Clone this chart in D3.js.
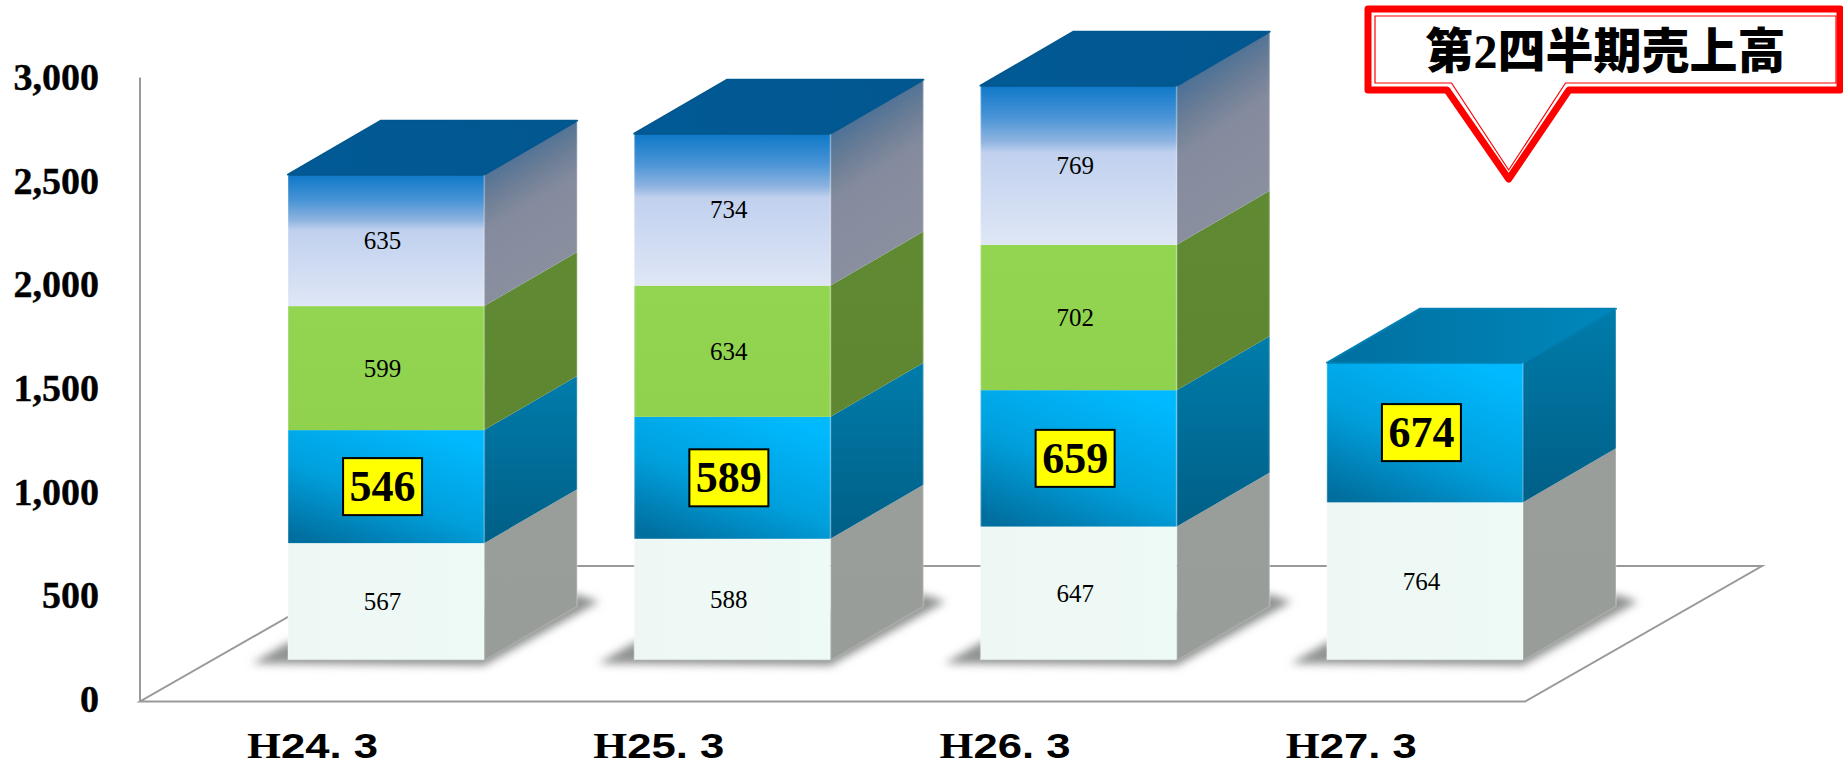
<!DOCTYPE html>
<html lang="ja">
<head>
    <meta charset="UTF-8">
    <title>第2四半期売上高</title>
    <script src="https://d3js.org/d3.v7.min.js"></script>
    <style>
        body { margin: 0; background: #fff; overflow: hidden; }
        svg { display: block; }
        .tick-label text { font-family: "Liberation Serif", serif; font-weight: bold; font-size: 38px; fill: #000; stroke: #000; stroke-width: 0.4px; }
        .value { font-family: "Liberation Serif", serif; font-size: 25px; fill: #000; text-anchor: middle; dominant-baseline: central; }
        .value-big { font-family: "Liberation Serif", serif; font-weight: bold; font-size: 44px; fill: #000; text-anchor: middle; dominant-baseline: central; }
        .cat { font-family: "Liberation Sans", sans-serif; font-weight: 700; font-size: 35px; fill: #000; }
    </style>
</head>
<body>
    <svg width="1843" height="765"></svg>
    <script>
        const categories = ["H24. 3", "H25. 3", "H26. 3", "H27. 3"];
        const quarter1 = [567, 588, 647, 764];
        const quarter2 = [546, 589, 659, 674];
        const quarter3 = [599, 634, 702, 0];
        const quarter4 = [635, 734, 769, 0];
        const yTicks = [0, 500, 1000, 1500, 2000, 2500, 3000];
        const calloutTitle = ["第", "2", "四半期売上高"];

        const rows = categories.map((c, i) => ({
            cat: c, q1: quarter1[i], q2: quarter2[i], q3: quarter3[i], q4: quarter4[i]
        }));
        const keys = ["q1", "q2", "q3", "q4"];
        const stacked = d3.stack().keys(keys)(rows);

        const svg = d3.select("svg");
        const defs = svg.append("defs");

        const x = d3.scaleBand().domain(categories).range([288, 1523]).paddingInner(0.4335);
        const y = d3.scaleLinear().domain([0, 3000]).range([660.5, 39.5]);
        // the axis labels sit on the front of the floor, not on the bars
        const yAxisScale = d3.scaleLinear().domain([0, 3000]).range([699, 77.6]);

        const dx = 93, dy = 54;
        const labelShift = -3.5;

        function gradient(id, stops, x1, y1, x2, y2) {
            const g = defs.append("linearGradient").attr("id", id)
                .attr("x1", x1).attr("y1", y1).attr("x2", x2).attr("y2", y2);
            stops.forEach(s => g.append("stop").attr("offset", s[0]).attr("stop-color", s[1]));
        }
        gradient("front-q1", [[0, "#eef7f3"], [1, "#eefaf6"]], 0, 0, 1, 0);
        gradient("side-q1", [[0, "#9a9e9a"], [1, "#989d99"]], 0, 0, 0, 1);
        gradient("front-q2", [[0, "#006f9f"], [0.45, "#009fdc"], [1, "#00b9ff"]], 0.15, 1, 0.75, 0);
        gradient("side-q2", [[0, "#007cab"], [1, "#005f86"]], 0, 0, 0, 1);
        gradient("front-q3", [[0, "#92d550"], [1, "#90d24e"]], 0, 0, 0, 1);
        gradient("side-q3", [[0, "#5f8a32"], [1, "#5f8631"]], 0, 0, 0, 1);
        gradient("front-q4", [[0, "#0e78c8"], [0.2, "#4a94d6"], [0.35, "#8fb4e0"], [0.42, "#c0d0ee"], [1, "#dfe7f6"]], 0, 0, 0, 1);
        gradient("side-q4", [[0, "#1d5d96"], [0.4, "#6c7e96"], [0.55, "#858b9e"], [1, "#8b90a0"]], 0, 0, 0.3, 1);
        gradient("top-blue", [[0, "#015a96"], [1, "#02578f"]], 0, 0, 1, 0);
        gradient("top-teal", [[0, "#006f9f"], [1, "#0088bc"]], 0, 0.5, 1, 0.5);

        const blur = defs.append("filter").attr("id", "soft")
            .attr("x", "-20%").attr("y", "-30%").attr("width", "140%").attr("height", "160%");
        blur.append("feGaussianBlur").attr("stdDeviation", 4);

        // floor, drawn first so the bars hide the part behind them
        const floorColor = "#999";
        const floor = [[140, 701.5], [1525, 701.5], [1762, 566], [377, 566]];
        svg.append("polygon")
            .attr("points", floor.join(" "))
            .attr("fill", "none").attr("stroke", floorColor).attr("stroke-width", 2);

        // vertical axis
        svg.append("line")
            .attr("x1", 140).attr("x2", 140)
            .attr("y1", yAxisScale(3000)).attr("y2", 702)
            .attr("stroke", floorColor).attr("stroke-width", 2);

        svg.append("g").attr("class", "tick-label")
            .attr("transform", "translate(99,0)")
            .call(d3.axisLeft(yAxisScale).tickValues(yTicks).tickFormat(d3.format(",")).tickSize(0).tickPadding(0))
            .call(g => g.select(".domain").remove());

        // shadows at the foot of each bar
        svg.append("g").selectAll("polygon").data(categories).join("polygon")
            .attr("points", d => {
                const l = x(d), r = l + x.bandwidth(), b = y(0);
                return [[l - 36, b + 3], [r, b + 5], [r + dx + 22, b - dy - 5], [r + dx, b - dy - 12], [l, b - 18]].join(" ");
            })
            .attr("fill", "#8f9290")
            .attr("filter", "url(#soft)");

        // bar segments
        const series = svg.append("g").selectAll("g").data(stacked).join("g");

        series.selectAll(".side")
            .data(s => s.filter(d => d[1] > d[0]).map(d => ({ key: s.key, d })))
            .join("polygon").attr("class", "side")
            .attr("points", e => {
                const r = x(e.d.data.cat) + x.bandwidth();
                return [[r, y(e.d[0])], [r + dx, y(e.d[0]) - dy], [r + dx, y(e.d[1]) - dy], [r, y(e.d[1])]].join(" ");
            })
            .attr("fill", e => `url(#side-${e.key})`);

        series.selectAll(".front")
            .data(s => s.filter(d => d[1] > d[0]).map(d => ({ key: s.key, d })))
            .join("rect").attr("class", "front")
            .attr("x", e => x(e.d.data.cat))
            .attr("width", x.bandwidth())
            .attr("y", e => y(e.d[1]))
            .attr("height", e => y(e.d[0]) - y(e.d[1]))
            .attr("fill", e => `url(#front-${e.key})`);

        // top faces use the colour of whichever series is on top
        svg.append("g").selectAll("polygon").data(rows).join("polygon")
            .attr("points", d => {
                const total = d.q1 + d.q2 + d.q3 + d.q4;
                const l = x(d.cat), r = l + x.bandwidth(), t = y(total);
                return [[l, t], [r, t], [r + dx, t - dy], [l + dx, t - dy]].join(" ");
            })
            .attr("fill", d => d.q4 > 0 ? "url(#top-blue)" : "url(#top-teal)")
            .attr("stroke", d => d.q4 > 0 ? "#02578f" : "#0080b2")
            .attr("stroke-width", 2)
            .attr("stroke-linejoin", "round");

        // pale rims along the vertical edges of each bar
        svg.append("g").selectAll("path").data(rows).join("path")
            .attr("d", d => {
                const total = d.q1 + d.q2 + d.q3 + d.q4;
                const l = x(d.cat), r = l + x.bandwidth(), b = y(0), t = y(total);
                return `M${l},${t}V${b}M${r},${t}V${b}M${r + dx},${t - dy}V${b - dy}`;
            })
            .attr("fill", "none").attr("stroke", "#fff").attr("stroke-opacity", 0.2).attr("stroke-width", 2);

        // bar base edge
        svg.append("g").selectAll("path").data(categories).join("path")
            .attr("d", d => {
                const l = x(d), r = l + x.bandwidth(), b = y(0);
                return `M${l},${b}H${r}L${r + dx},${b - dy}`;
            })
            .attr("fill", "none").attr("stroke", "#a9aca9").attr("stroke-width", 1.5);

        // plain value labels
        const labels = svg.append("g").attr("transform", `translate(${labelShift},0)`);
        stacked.filter(s => s.key !== "q2").forEach(s => {
            labels.selectAll(null).data(s.filter(d => d[1] > d[0])).join("text")
                .attr("class", "value")
                .attr("x", d => x(d.data.cat) + x.bandwidth() / 2)
                .attr("y", d => y((d[0] + d[1]) / 2))
                .text(d => d[1] - d[0]);
        });

        // highlighted series in yellow boxes
        const q2Stack = stacked.find(s => s.key === "q2");
        const boxW = 79, boxH = 57;
        labels.selectAll("rect").data(q2Stack).join("rect")
            .attr("x", d => x(d.data.cat) + x.bandwidth() / 2 - boxW / 2)
            .attr("y", d => y((d[0] + d[1]) / 2) - boxH / 2)
            .attr("width", boxW).attr("height", boxH)
            .attr("fill", "#ff0").attr("stroke", "#000").attr("stroke-width", 2);
        labels.selectAll(".value-big").data(q2Stack).join("text")
            .attr("class", "value-big")
            .attr("x", d => x(d.data.cat) + x.bandwidth() / 2)
            .attr("y", d => y((d[0] + d[1]) / 2))
            .text(d => d[1] - d[0]);

        // category labels, shifted left towards the front of the floor; the H is slab-serif
        const catText = svg.append("g").selectAll("text").data(categories).join("text")
            .attr("class", "cat")
            .attr("x", d => x(d) - 41)
            .attr("y", 757.5)
            .attr("textLength", 131)
            .attr("lengthAdjust", "spacingAndGlyphs");
        catText.append("tspan").attr("font-family", "'Liberation Serif', serif").text(d => d[0]);
        catText.append("tspan").text(d => d.slice(1));

        // callout
        const callout = svg.append("g");
        callout.append("path")
            .attr("d", "M1368,9H1840V90H1569L1508.7,179L1447,90H1368Z")
            .attr("fill", "#fff").attr("stroke", "#f00").attr("stroke-width", 7).attr("stroke-linejoin", "round");
        callout.append("path")
            .attr("d", "M1375,16H1836V83H1565.5L1508.7,170L1451.5,83H1375Z")
            .attr("fill", "none").attr("stroke", "#f00").attr("stroke-width", 1.2);
        const title = callout.append("text")
            .attr("x", 1605.5).attr("y", 68)
            .attr("text-anchor", "middle")
            .attr("font-family", "'Noto Sans CJK JP', sans-serif")
            .attr("font-weight", 900)
            .attr("font-size", 48)
            .attr("fill", "#000");
        calloutTitle.forEach((t, i) => {
            const span = title.append("tspan").text(t);
            if (i === 1) span.attr("font-family", "'Liberation Serif', serif").attr("font-weight", "bold");
        });
    </script>
</body>
</html>
